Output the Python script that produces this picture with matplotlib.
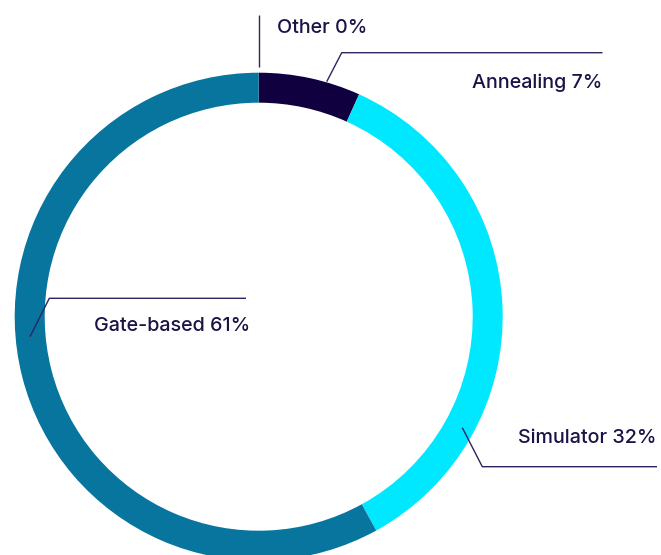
import matplotlib.pyplot as plt

# Data
labels = ["Annealing", "Simulator", "Gate-based", "Other"]
label_pct = [7, 32, 61, 0]
# slice sizes as drawn in the picture (the ring is not quite true to the labels)
shares = [6.75, 35.25, 58.0, 0.0]
colors = ["#10003f", "#00e8ff", "#08759e", "#cccccc"]

W, H = 661, 555
text_color = "#1a1446"
line_color = "#2b2660"

fig = plt.figure(figsize=(W / 100, H / 100), dpi=100)
ax = fig.add_axes([0, 0, 1, 1])

# Donut (pixel coords, y measured from the bottom)
cx, cy, radius = 258.7, H - 316.7, 244
ax.pie(shares[:3], colors=colors[:3], startangle=90, counterclock=False,
       center=(cx, cy), radius=radius,
       wedgeprops=dict(width=30, linewidth=0))

ax.set_xlim(0, W)
ax.set_ylim(0, H)
ax.set_aspect("equal")
ax.axis("off")


def py(y):
    return H - y


# Leader lines: list of (x, y) points in image pixels, plus label placement
leaders = {
    "Other": ([(258.5, 67), (258.5, 15)], (277, 28), "left"),
    "Annealing": ([(326.7, 81.7), (341.7, 52.7), (602.5, 52.7)], (602, 83), "right"),
    "Gate-based": ([(30, 336.7), (49.3, 298.3), (246, 298.3)], (250, 326), "right"),
    "Simulator": ([(462.3, 427.7), (482.3, 466.7), (657, 466.7)], (656, 438), "right"),
}

for name, pct in zip(labels, label_pct):
    pts, (tx, ty), ha = leaders[name]
    ax.plot([p[0] for p in pts], [py(p[1]) for p in pts],
            color=line_color, linewidth=1.0, solid_capstyle="butt")
    ax.text(tx, py(ty), f"{name} {pct}%", ha=ha, va="center",
            fontsize=14.2, color=text_color, family="Inter", weight="medium")

fig.savefig("out.png", dpi=100)
